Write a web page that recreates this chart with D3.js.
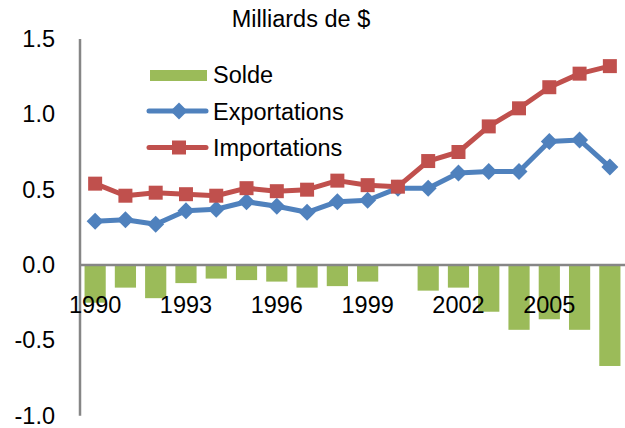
<!DOCTYPE html>
<html>
<head>
<meta charset="utf-8">
<script src="https://cdn.jsdelivr.net/npm/d3@7"></script>
<style>
  html, body { margin: 0; padding: 0; background: #fff; }
  svg { display: block; font-family: "Liberation Sans", Arial, sans-serif; }
</style>
</head>
<body>
<svg id="chart" width="625" height="428"></svg>
<script>
const years = [1990,1991,1992,1993,1994,1995,1996,1997,1998,1999,2000,2001,2002,2003,2004,2005,2006,2007];
const solde = [-0.25,-0.15,-0.22,-0.12,-0.09,-0.10,-0.11,-0.15,-0.14,-0.11,0,-0.17,-0.15,-0.31,-0.43,-0.36,-0.43,-0.67];
const exportations = [0.29,0.30,0.27,0.36,0.37,0.42,0.39,0.35,0.42,0.43,0.51,0.51,0.61,0.62,0.62,0.82,0.83,0.65];
const importations = [0.54,0.46,0.48,0.47,0.46,0.51,0.49,0.50,0.56,0.53,0.52,0.69,0.75,0.92,1.04,1.18,1.27,1.32];
const yTicks = [-1.0,-0.5,0.0,0.5,1.0,1.5];
const xTickYears = [1990,1993,1996,1999,2002,2005];
const title = "Milliards de $";
const seriesNames = ["Solde","Exportations","Importations"];

const C_GREEN = "#9BBB59", C_BLUE = "#4F81BD", C_RED = "#C0504D", C_AXIS = "#868686";
const FONT = 23.5;

const svg = d3.select("#chart");
const x = d3.scaleBand().domain(years).range([80, 625]).paddingInner(0.3).paddingOuter(0.15);
const y = d3.scaleLinear().domain([-1, 1.5]).range([415.7, 39]);
const cx = d => x(d) + x.bandwidth() / 2;

// bars
svg.append("g").selectAll("rect").data(years.map((yr, i) => ({yr, v: solde[i]})))
  .join("rect")
  .attr("x", d => x(d.yr))
  .attr("width", x.bandwidth())
  .attr("y", d => y(Math.max(0, d.v)))
  .attr("height", d => Math.abs(y(d.v) - y(0)))
  .attr("fill", C_GREEN);

// y axis
const yAxis = d3.axisLeft(y).tickValues(yTicks).tickSize(0).tickPadding(25).tickFormat(d => d.toFixed(1));
const gy = svg.append("g").attr("transform", "translate(80,0)").call(yAxis);
gy.select(".domain").remove();
gy.selectAll("text").attr("font-size", FONT).attr("font-family", "Liberation Sans, Arial, sans-serif").attr("fill", "#000");
svg.append("line").attr("x1", 80).attr("x2", 80).attr("y1", y(1.5)).attr("y2", y(-1))
  .attr("stroke", C_AXIS).attr("stroke-width", 2.5);

// zero line
svg.append("line").attr("x1", 80).attr("x2", 625).attr("y1", y(0)).attr("y2", y(0))
  .attr("stroke", C_AXIS).attr("stroke-width", 2.5);

// lines
const line = d3.line().x(d => cx(d.yr)).y(d => y(d.v));
function drawSeries(vals, color, marker) {
  const data = years.map((yr, i) => ({yr, v: vals[i]}));
  svg.append("path").datum(data).attr("d", line)
    .attr("fill", "none").attr("stroke", color).attr("stroke-width", 5)
    .attr("stroke-linejoin", "round").attr("stroke-linecap", "round");
  svg.append("g").selectAll("path").data(data).join("path")
    .attr("transform", d => `translate(${cx(d.yr)},${y(d.v)})`)
    .attr("d", marker).attr("fill", color);
}
const diamond = "M0,-8.5L8.5,0L0,8.5L-8.5,0Z";
const square = "M-7,-7H7V7H-7Z";
drawSeries(exportations, C_BLUE, diamond);
drawSeries(importations, C_RED, square);

// x axis labels
const xAxis = d3.axisBottom(x).tickValues(xTickYears).tickSize(0).tickPadding(31);
const gx = svg.append("g").attr("transform", `translate(0,${y(0)})`).call(xAxis);
gx.select(".domain").remove();
gx.selectAll("text").attr("font-size", FONT).attr("font-family", "Liberation Sans, Arial, sans-serif").attr("fill", "#000");

// title
svg.append("text").attr("x", 301).attr("y", 26.5).attr("text-anchor", "middle")
  .attr("font-size", FONT).attr("fill", "#000").text(title);

// legend
const lg = svg.append("g");
lg.append("rect").attr("x", 150).attr("y", 70).attr("width", 57).attr("height", 11).attr("fill", C_GREEN);
lg.append("line").attr("x1", 149).attr("x2", 206).attr("y1", 111).attr("y2", 111)
  .attr("stroke", C_BLUE).attr("stroke-width", 5).attr("stroke-linecap", "round");
lg.append("path").attr("transform", "translate(179,111)").attr("d", diamond).attr("fill", C_BLUE);
lg.append("line").attr("x1", 149).attr("x2", 206).attr("y1", 147.5).attr("y2", 147.5)
  .attr("stroke", C_RED).attr("stroke-width", 5).attr("stroke-linecap", "round");
lg.append("path").attr("transform", "translate(179,147.5)").attr("d", square).attr("fill", C_RED);
const ly = [75, 111.5, 148];
seriesNames.forEach((n, i) => {
  lg.append("text").attr("x", 213).attr("y", ly[i]).attr("dy", "0.36em")
    .attr("font-size", FONT).attr("fill", "#000").text(n);
});
</script>
</body>
</html>
